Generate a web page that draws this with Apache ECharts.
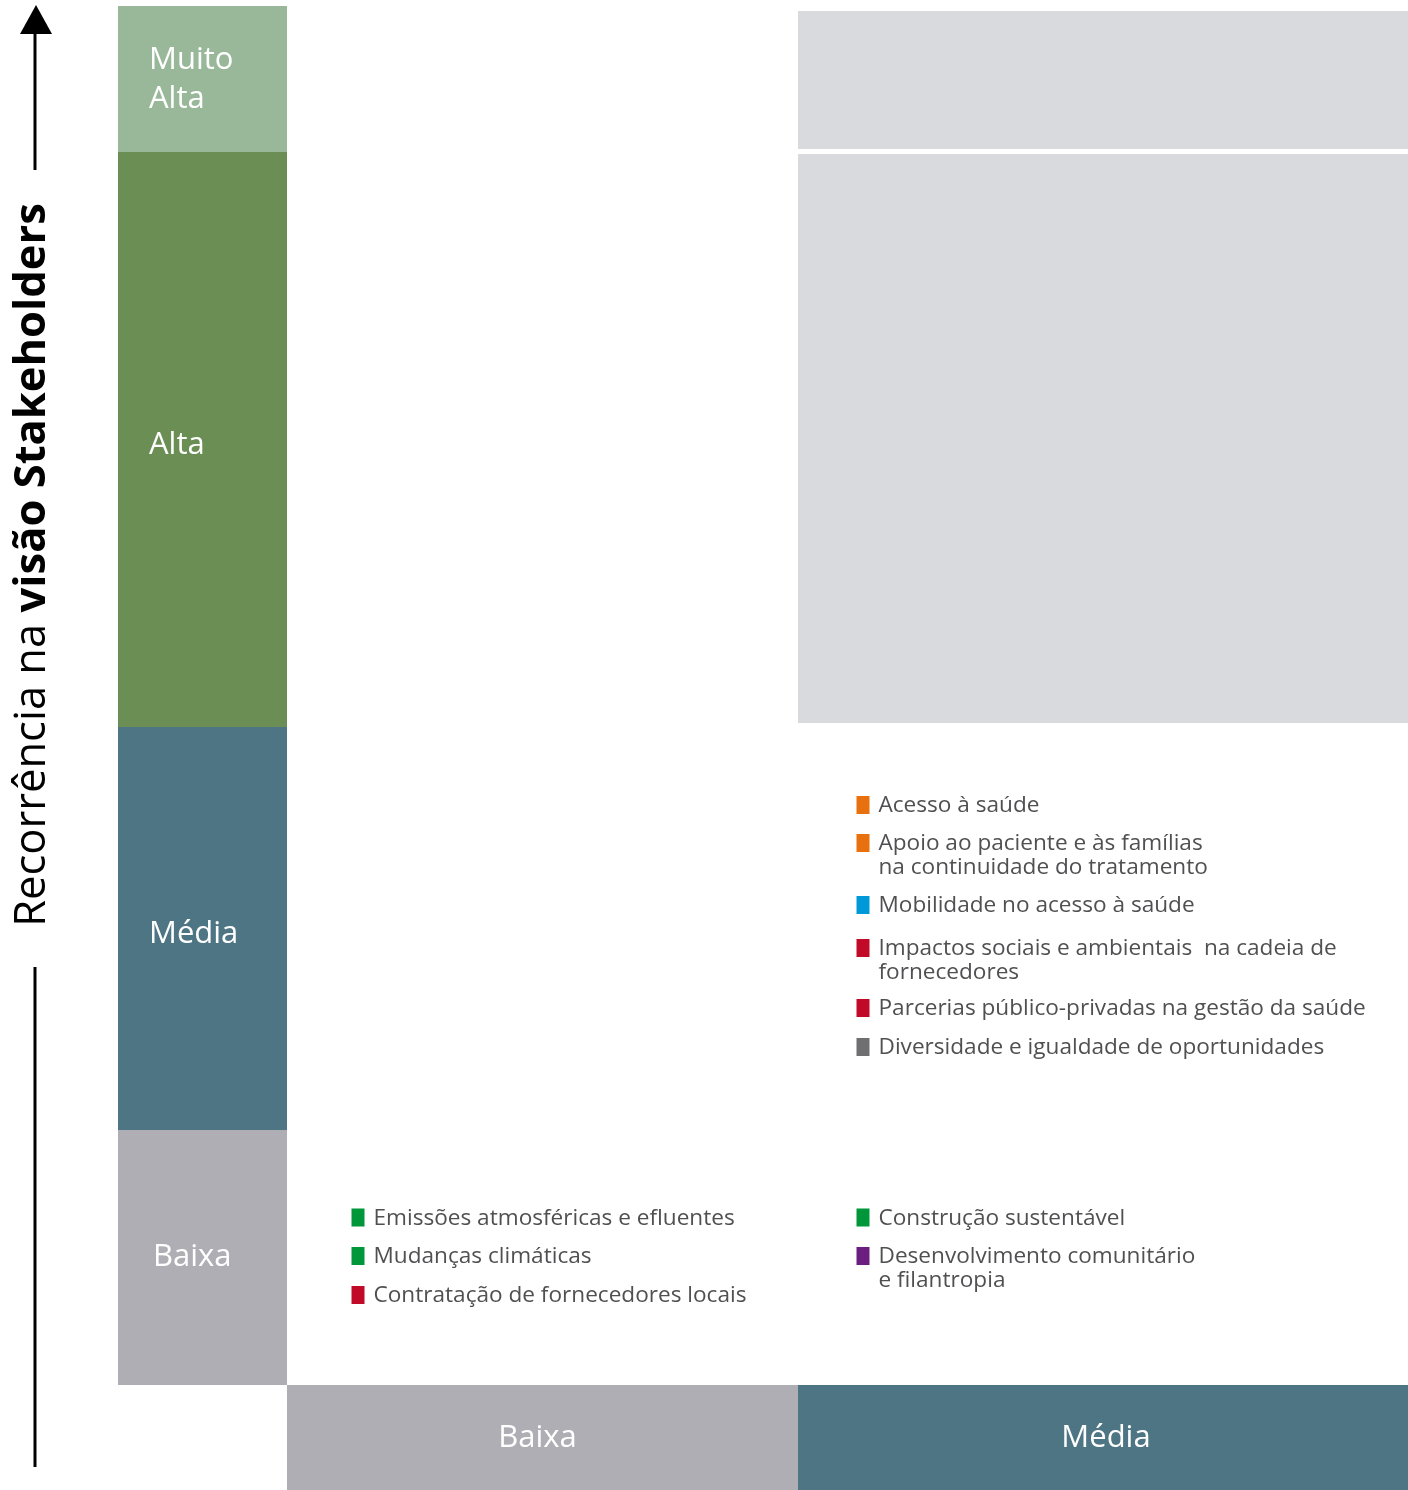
<!DOCTYPE html>
<html>
<head>
<meta charset="utf-8">
<script src="https://cdn.jsdelivr.net/npm/echarts@6/dist/echarts.min.js"></script>
<style>
html,body{margin:0;padding:0;background:#fff;}
#chart{width:1408px;height:1490px;}
</style>
</head>
<body>
<div id="chart"></div>
<script>
// ---- Data ----
const yLevels = ['Baixa', 'Média', 'Alta', 'Muito Alta'];
const yBounds = [0, 255, 658, 1233, 1379];
const yLevelColors = ['#AFAEB4', '#4E7583', '#6B8E55', '#99B89A'];
const xLevels = ['Baixa', 'Média'];
const xBounds = [0, 511, 1121];
const xLevelColors = ['#AFAEB4', '#4E7583'];
const axisTitleNormal = 'Recorrência na ';
const axisTitleBold = 'visão Stakeholders';

// highlighted cells [x0, x1, y0, y1]
const cellX0 = [511, 511];
const cellX1 = [1121, 1121];
const cellY0 = [662, 1236];
const cellY1 = [1231, 1374];

const topicNames = [
  'Acesso à saúde',
  'Apoio ao paciente e às famílias\nna continuidade do tratamento',
  'Mobilidade no acesso à saúde',
  'Impactos sociais e ambientais  na cadeia de\nfornecedores',
  'Parcerias público-privadas na gestão da saúde',
  'Diversidade e igualdade de oportunidades',
  'Emissões atmosféricas e efluentes',
  'Mudanças climáticas',
  'Contratação de fornecedores locais',
  'Construção sustentável',
  'Desenvolvimento comunitário\ne filantropia'
];
const topicColors = ['#E8700E', '#E8700E', '#0099D8', '#C10A27', '#C10A27', '#6E6E73',
  '#00973A', '#00973A', '#C10A27', '#00973A', '#6C1D80'];
const topicX = [576, 576, 576, 576, 576, 576, 71, 71, 71, 576, 576];
const topicY = [580, 542, 480, 437, 377, 338, 167.5, 129, 90, 167.5, 129];

const X_MIN = -169, X_MAX = 1121, Y_MIN = -105, Y_MAX = 1379;
const FONT = 'Open Sans';

// ---- Build series data ----
const yBandData = yLevels.map((n, i) => [X_MIN, 0, yBounds[i], yBounds[i + 1], i]);
const xBandData = xLevels.map((n, i) => [xBounds[i], xBounds[i + 1], Y_MIN, 0, i]);
const cellData = cellX0.map((v, i) => [cellX0[i], cellX1[i], cellY0[i], cellY1[i]]);
const topicData = topicNames.map((n, i) => ({
  value: [topicX[i], topicY[i]], name: n,
  itemStyle: { color: topicColors[i], opacity: 1 }
}));

function rectFromCoords(api, x0, x1, y0, y1) {
  const a = api.coord([x0, y1]);
  const b = api.coord([x1, y0]);
  return { x: a[0], y: a[1], width: b[0] - a[0], height: b[1] - a[1] };
}

const chart = echarts.init(document.getElementById('chart'), null, { renderer: 'canvas' });
chart.setOption({
  backgroundColor: '#ffffff',
  animation: false,
  grid: { left: 118, right: 0, top: 6, bottom: 0, containLabel: false },
  xAxis: { type: 'value', min: X_MIN, max: X_MAX, show: false, splitLine: { show: false } },
  yAxis: { type: 'value', min: Y_MIN, max: Y_MAX, show: false, splitLine: { show: false } },
  graphic: [
    { type: 'line', shape: { x1: 35, y1: 1467, x2: 35, y2: 967 }, style: { stroke: '#000', lineWidth: 3 } },
    { type: 'line', shape: { x1: 35, y1: 170, x2: 35, y2: 30 }, style: { stroke: '#000', lineWidth: 3 } },
    { type: 'polygon', shape: { points: [[36, 5], [20, 34], [52, 34]] }, style: { fill: '#000' } },
    {
      type: 'text', x: 33, y: 565, rotation: Math.PI / 2,
      style: {
        text: '{n|' + axisTitleNormal + '}{b|' + axisTitleBold + '}',
        x: 0, y: 0, align: 'center', verticalAlign: 'middle',
        rich: {
          n: { fontFamily: 'Open Sans', fontSize: 43.5, fontWeight: 'normal', fill: '#000' },
          b: { fontFamily: 'Open Sans', fontSize: 43.5, fontWeight: 'bold', fill: '#000' }
        }
      }
    }
  ],
  series: [
    {
      type: 'custom', name: 'cells', silent: true,
      data: cellData,
      renderItem: (params, api) => ({
        type: 'rect',
        shape: rectFromCoords(api, api.value(0), api.value(1), api.value(2), api.value(3)),
        style: { fill: '#D9DADE' }
      })
    },
    {
      type: 'custom', name: 'yLevels', silent: true,
      data: yBandData,
      renderItem: (params, api) => {
        const i = api.value(4);
        const r = rectFromCoords(api, api.value(0), api.value(1), api.value(2), api.value(3));
        const label = yLevels[i] === 'Muito Alta' ? 'Muito\nAlta' : yLevels[i];
        const dy = [0, 6, 6, 1][i];
        const dx = [35, 31, 31, 31][i];
        return {
          type: 'group',
          children: [
            { type: 'rect', shape: r, style: { fill: yLevelColors[i] } },
            { type: 'text', style: {
                text: label, x: r.x + dx, y: r.y + r.height / 2 + dy,
                align: 'left', verticalAlign: 'middle',
                fontFamily: FONT, fontSize: 31, lineHeight: 39, fill: '#ffffff'
            } }
          ]
        };
      }
    },
    {
      type: 'custom', name: 'xLevels', silent: true,
      data: xBandData,
      renderItem: (params, api) => {
        const i = api.value(4);
        const r = rectFromCoords(api, api.value(0), api.value(1), api.value(2), api.value(3));
        return {
          type: 'group',
          children: [
            { type: 'rect', shape: r, style: { fill: xLevelColors[i] } },
            { type: 'text', style: {
                text: xLevels[i], x: r.x + r.width / 2 + (i === 0 ? -5 : 3), y: r.y + r.height / 2 + 1,
                align: 'center', verticalAlign: 'middle',
                fontFamily: FONT, fontSize: 31, fill: '#ffffff'
            } }
          ]
        };
      }
    },
    {
      type: 'scatter', name: 'topics', silent: true,
      symbol: 'rect', symbolSize: [13, 18],
      itemStyle: { opacity: 1 },
      data: topicData,
      label: {
        show: true, formatter: '{b}',
        position: [22, -2], align: 'left', verticalAlign: 'top',
        fontFamily: FONT, fontSize: 22.6, lineHeight: 24, color: '#505052'
      }
    }
  ]
});
</script>
</body>
</html>
